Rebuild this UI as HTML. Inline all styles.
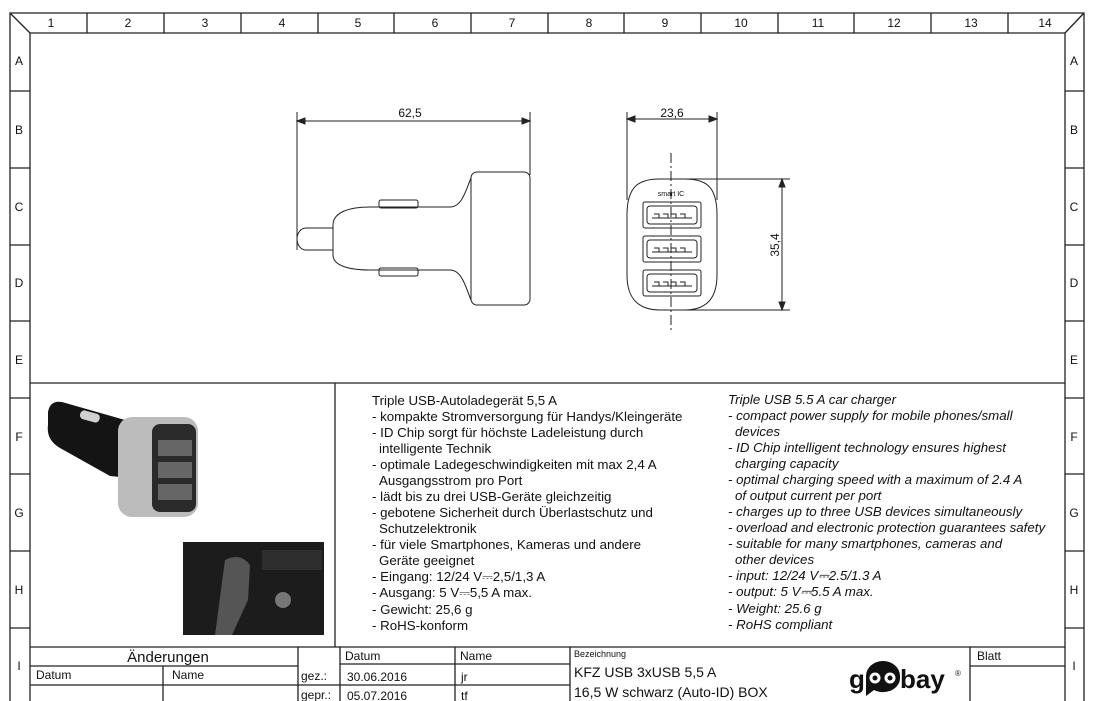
<!DOCTYPE html>
<html><head><meta charset="utf-8"><style>
html,body{margin:0;padding:0;background:#fff}
svg{display:block}
text{font-family:"Liberation Sans",Arial,sans-serif;fill:#111}
</style></head><body>
<svg width="1098" height="701" viewBox="0 0 1098 701" xmlns="http://www.w3.org/2000/svg">
<rect width="1098" height="701" fill="#fff"/>
<g stroke="#222" stroke-width="1.3" fill="none">
<path d="M10 701 V13 H1084 V701"/>
<path d="M30 701 V33 H1065 V701"/>
<path d="M10 13 L30 33 M1084 13 L1065 33"/>
<path d="M87 13V33 M164 13V33 M241 13V33 M318 13V33 M394 13V33 M471 13V33 M548 13V33 M624 13V33 M701 13V33 M778 13V33 M854 13V33 M931 13V33 M1008 13V33"/>
<path d="M10 91H30 M10 168H30 M10 245H30 M10 321H30 M10 398H30 M10 474H30 M10 551H30 M10 628H30"/>
<path d="M1065 91H1084 M1065 168H1084 M1065 245H1084 M1065 321H1084 M1065 398H1084 M1065 474H1084 M1065 551H1084 M1065 628H1084"/>
<path d="M30 383H1065 M335 383V647"/>
<path d="M30 647H1065"/>
<path d="M30 666H298 M340 664H570 M970 666H1065 M30 685H570"/>
<path d="M163 666V701 M298 647V701 M340 647V701 M455 647V701 M570 647V701 M970 647V701"/>
</g>
<g font-size="12" text-anchor="middle">
<text x="51" y="27">1</text><text x="128" y="27">2</text><text x="205" y="27">3</text><text x="282" y="27">4</text><text x="358" y="27">5</text><text x="435" y="27">6</text><text x="512" y="27">7</text><text x="589" y="27">8</text><text x="665" y="27">9</text><text x="741" y="27">10</text><text x="818" y="27">11</text><text x="894" y="27">12</text><text x="971" y="27">13</text><text x="1045" y="27">14</text>
<text x="19" y="65">A</text><text x="19" y="134">B</text><text x="19" y="211">C</text><text x="19" y="287">D</text><text x="19" y="364">E</text><text x="19" y="441">F</text><text x="19" y="517">G</text><text x="19" y="594">H</text><text x="19" y="670">I</text>
<text x="1074" y="65">A</text><text x="1074" y="134">B</text><text x="1074" y="211">C</text><text x="1074" y="287">D</text><text x="1074" y="364">E</text><text x="1074" y="441">F</text><text x="1074" y="517">G</text><text x="1074" y="594">H</text><text x="1074" y="670">I</text>
</g>

<g stroke="#222" stroke-width="1" fill="none">
<path d="M297 112V250 M530 112V175"/>
<path d="M300 121H527"/>
<path d="M297 121l8 -3v6z M530 121l-8 -3v6z" fill="#222"/>
<path d="M333 228H306a9 11 0 0 0 0 22H333"/>
<path d="M333 225 C333 212 350 207 370 207 H450 C462 207 466 190 471 178 M333 225 V255 C333 266 350 270 370 270 H450 C462 270 466 288 471 300"/>
<rect x="471" y="172" width="59" height="133" rx="6"/>
<rect x="379" y="200" width="39" height="8" rx="2"/>
<rect x="379" y="268" width="39" height="8" rx="2"/>
</g>
<text x="410" y="117" font-size="12" text-anchor="middle">62,5</text>

<g stroke="#222" stroke-width="1" fill="none">
<path d="M627 112V200 M717 112V200"/>
<path d="M630 119H714"/>
<path d="M627 119l8 -3v6z M717 119l-8 -3v6z" fill="#222"/>
<path d="M627 215 C627 185 640 179 660 179 H684 C705 179 717 185 717 215 V275 C717 300 705 310 684 310 H660 C640 310 627 300 627 275Z"/>
<path d="M671 153V332" stroke-dasharray="10 3 2 3"/>
<path d="M672 179H790 M672 310H790"/>
<path d="M782 182V307"/>
<path d="M782 179l-3 8h6z M782 310l-3 -8h6z" fill="#222"/>
<g>
<rect x="643" y="202" width="58" height="26" rx="2"/><rect x="647" y="206" width="50" height="18" rx="3"/><path d="M652 218H692 M654 214h5v4 M663 214h5v4 M671 214h5v4 M680 214h5v4"/>
<rect x="643" y="236" width="58" height="26" rx="2"/><rect x="647" y="240" width="50" height="18" rx="3"/><path d="M652 252H692 M654 248h5v4 M663 248h5v4 M671 248h5v4 M680 248h5v4"/>
<rect x="643" y="270" width="58" height="26" rx="2"/><rect x="647" y="274" width="50" height="18" rx="3"/><path d="M652 286H692 M654 282h5v4 M663 282h5v4 M671 282h5v4 M680 282h5v4"/>
</g>
</g>
<text x="671" y="196" font-size="7" text-anchor="middle">smart IC</text>
<text x="672" y="117" font-size="12" text-anchor="middle">23,6</text>
<text transform="translate(779 245) rotate(-90)" font-size="12" text-anchor="middle">35,4</text>

<!-- product photo -->
<g>
<path d="M48 412 Q50 400 62 402 L125 420 L130 478 L110 476 L60 448 Q46 440 48 425 Z" fill="#141414"/>
<rect x="80" y="412" width="20" height="9" rx="4" fill="#d0d0d0" transform="rotate(15 90 416)"/>
<rect x="118" y="417" width="80" height="100" rx="14" fill="#bcbcbc"/>
<rect x="152" y="424" width="44" height="88" rx="8" fill="#2a2a2a"/>
<rect x="158" y="440" width="34" height="16" fill="#666"/><rect x="158" y="462" width="34" height="16" fill="#666"/><rect x="158" y="484" width="34" height="16" fill="#666"/>
</g>
<rect x="183" y="542" width="141" height="93" fill="#1c1c1c"/>
<path d="M225 560 Q240 552 250 565 L248 600 L232 635 L215 635 Z" fill="#555"/>
<rect x="262" y="550" width="60" height="20" fill="#2e2e2e"/>
<circle cx="283" cy="600" r="8" fill="#777"/>

<g font-size="13.3">
<text x="372" y="405">Triple USB-Autoladegerät 5,5 A</text>
<text x="372" y="421">- kompakte Stromversorgung für Handys/Kleingeräte</text>
<text x="372" y="437">- ID Chip sorgt für höchste Ladeleistung durch</text>
<text x="379" y="453">intelligente Technik</text>
<text x="372" y="469">- optimale Ladegeschwindigkeiten mit max 2,4 A</text>
<text x="379" y="485">Ausgangsstrom pro Port</text>
<text x="372" y="501">- lädt bis zu drei USB-Geräte gleichzeitig</text>
<text x="372" y="517">- gebotene Sicherheit durch Überlastschutz und</text>
<text x="379" y="533">Schutzelektronik</text>
<text x="372" y="549">- für viele Smartphones, Kameras und andere</text>
<text x="379" y="565">Geräte geeignet</text>
<text x="372" y="581">- Eingang: 12/24 V⎓2,5/1,3 A</text>
<text x="372" y="597">- Ausgang: 5 V⎓5,5 A max.</text>
<text x="372" y="614">- Gewicht: 25,6 g</text>
<text x="372" y="630">- RoHS-konform</text>
</g>
<g font-size="13.3" font-style="italic">
<text x="728" y="404">Triple USB 5.5 A car charger</text>
<text x="728" y="420">- compact power supply for mobile phones/small</text>
<text x="735" y="436">devices</text>
<text x="728" y="452">- ID Chip intelligent technology ensures highest</text>
<text x="735" y="468">charging capacity</text>
<text x="728" y="484">- optimal charging speed with a maximum of 2.4 A</text>
<text x="735" y="500">of output current per port</text>
<text x="728" y="516">- charges up to three USB devices simultaneously</text>
<text x="728" y="532">- overload and electronic protection guarantees safety</text>
<text x="728" y="548">- suitable for many smartphones, cameras and</text>
<text x="735" y="564">other devices</text>
<text x="728" y="580">- input: 12/24 V⎓2.5/1.3 A</text>
<text x="728" y="596">- output: 5 V⎓5.5 A max.</text>
<text x="728" y="613">- Weight: 25.6 g</text>
<text x="728" y="629">- RoHS compliant</text>
</g>

<text x="168" y="662" font-size="15" text-anchor="middle">Änderungen</text>
<text x="36" y="679" font-size="12">Datum</text>
<text x="172" y="679" font-size="12">Name</text>
<text x="301" y="680" font-size="12">gez.:</text>
<text x="301" y="699" font-size="12">gepr.:</text>
<text x="345" y="660" font-size="12">Datum</text>
<text x="460" y="660" font-size="12">Name</text>
<text x="347" y="681" font-size="12">30.06.2016</text>
<text x="347" y="700" font-size="12">05.07.2016</text>
<text x="461" y="681" font-size="12">jr</text>
<text x="461" y="700" font-size="12">tf</text>
<text x="574" y="657" font-size="9">Bezeichnung</text>
<text x="574" y="677" font-size="14">KFZ USB 3xUSB  5,5 A</text>
<text x="574" y="697" font-size="14">16,5 W schwarz (Auto-ID) BOX</text>
<text x="977" y="660" font-size="12">Blatt</text>
<g>
<text x="849" y="688" font-size="26" font-weight="bold">g</text>
<path d="M866 684 V676 a17 15 0 0 1 34 0 v2 a17 14 0 0 1 -26 12 l-8 6z" fill="#111"/>
<circle cx="875" cy="678" r="5.5" fill="#fff"/><circle cx="875" cy="678" r="2.5" fill="#111"/>
<circle cx="890" cy="678" r="5.5" fill="#fff"/><circle cx="890" cy="678" r="2.5" fill="#111"/>
<text x="900" y="688" font-size="26" font-weight="bold">bay</text>
<text x="955" y="676" font-size="8">®</text>
</g>
</svg>
</body></html>
